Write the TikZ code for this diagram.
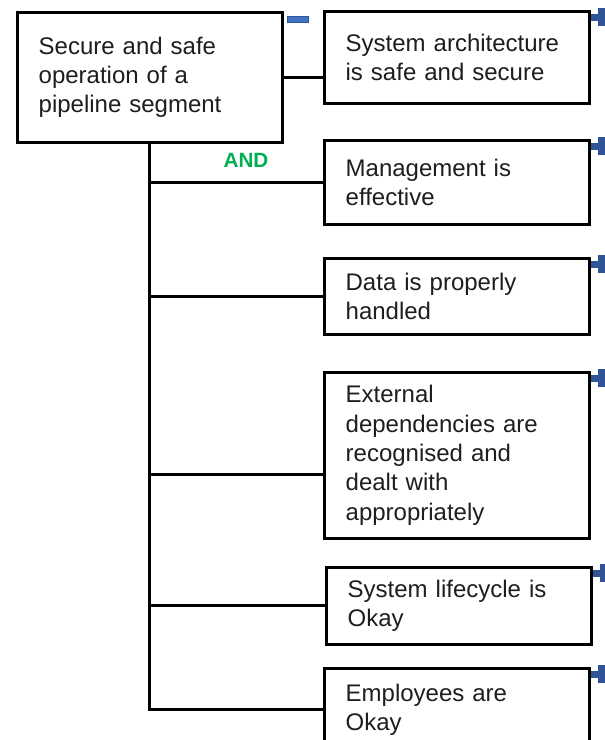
\documentclass[tikz,border=0pt]{standalone}
\usepackage{fontspec}
\setmainfont{Liberation Sans}
\usetikzlibrary{calc}
\definecolor{andgreen}{RGB}{0,176,80}
\definecolor{iconblue}{RGB}{47,85,151}
\definecolor{minusblue}{RGB}{68,114,196}
\definecolor{txt}{RGB}{30,30,30}
\tikzset{
  box/.style={draw=black, line width=2pt, fill=white, anchor=north west,
    minimum width=198.75pt, text width=166.75pt, inner xsep=16pt, inner ysep=0pt,
    align=left, font=\fontsize{18pt}{22pt}\selectfont, text=txt},
  conn/.style={line width=2.2pt, draw=black},
  andlabel/.style={font=\fontsize{15.5pt}{18pt}\selectfont\bfseries, text=andgreen},
  plusicon/.pic={\fill[iconblue] (-10.5,-3.2) rectangle (10.5,3.2);
                 \fill[iconblue] (-3.2,-9) rectangle (3.2,9);},
  minusicon/.pic={\fill[minusblue, draw=iconblue, line width=0.6pt] (-10.5,-3) rectangle (10.5,3);}
}
\begin{document}
\begin{tikzpicture}[x=0.75pt,y=-0.75pt]
\useasboundingbox (0,0) rectangle (605,740);
\clip (0,0) rectangle (605,740);
\node[box, minimum height=97.5pt] (root) at (16,11) {Secure and safe\\operation of a\\pipeline segment};
\node[box, minimum height=69pt] (b1) at (323,10) {System architecture\\is safe and secure};
\node[box, minimum height=63pt] (b2) at (323,139) {Management is\\effective};
\node[box, minimum height=57pt] (b3) at (323,257) {Data is properly\\handled};
\node[box, minimum height=124.5pt] (b4) at (323,371) {External\\dependencies are\\recognised and\\dealt with\\appropriately};
\node[box, minimum height=57.75pt] (b5) at (325,566) {System lifecycle is\\Okay};
\node[box, minimum height=62.25pt] (b6) at (323,667) {Employees are\\Okay};
\coordinate (b4in) at ($(b4.west)+(0,19)$);
\draw[conn] (root.south) |- (b6.west);
\draw[conn] (root.east) -- (root.east -| b1.west);
\draw[conn] (root.south |- b2.west) -- (b2.west);
\draw[conn] (root.south |- b3.west) -- (b3.west);
\draw[conn] (root.south |- b4in) -- (b4in);
\draw[conn] (root.south |- b5.west) -- (b5.west);
\node[andlabel] (and) at (246,160) {AND};
\pic at ($(root.north east)+(14.5,8)$) {minusicon};
\foreach \b in {b1,b2,b3,b4,b5,b6}{
  \pic at ($(\b.north east)+(10.7,7.3)$) {plusicon};
}
\end{tikzpicture}
\end{document}
